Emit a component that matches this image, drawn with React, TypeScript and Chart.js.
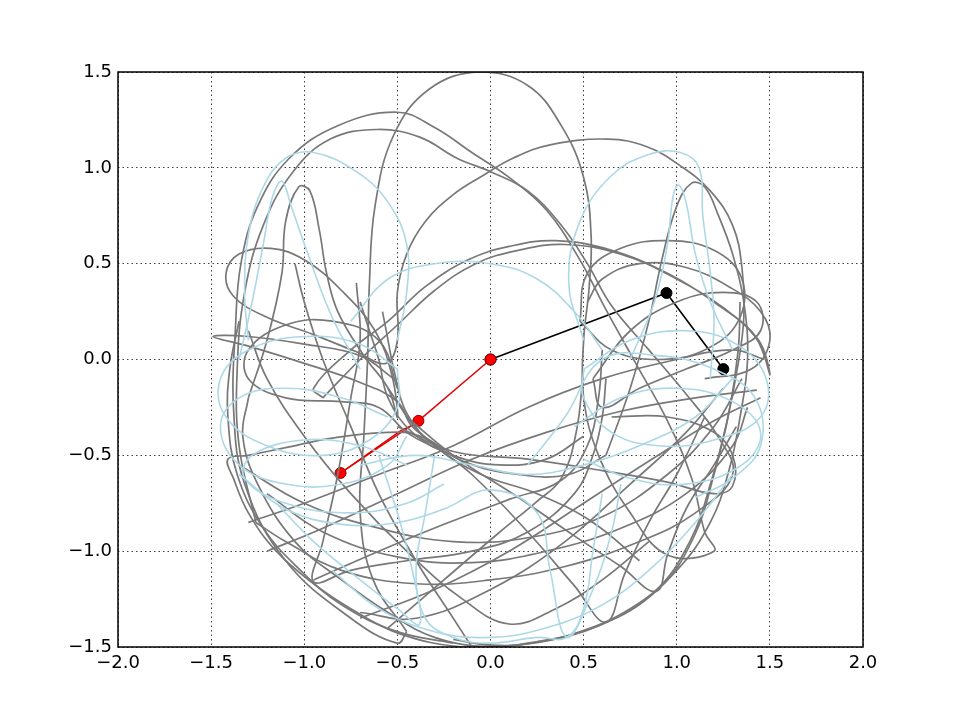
import React, { useEffect, useRef } from 'react';
import { Chart, registerables } from 'chart.js';
Chart.register(...registerables);

type P = [number, number];

const xTickValues = [-2.0, -1.5, -1.0, -0.5, 0.0, 0.5, 1.0, 1.5, 2.0];
const yTickValues = [-1.5, -1.0, -0.5, 0.0, 0.5, 1.0, 1.5];

// black double pendulum: pivot, bob 1, bob 2
const blackPendulum: P[] = [[0, 0], [0.945, 0.347], [1.25, -0.05]];
// red double pendulum: pivot, bob 1, bob 2
const redPendulum: P[] = [[0, 0], [-0.387, -0.32], [-0.805, -0.592]];
const redTrail: P[] = [[-0.39, -0.33], [-0.48, -0.37], [-0.805, -0.592]];

// grey trace (tip of black pendulum)
const grayLoop1: P[] = [[-1.3,-0.2],[-1.2,0.1],[-1.12,0.45],[-1.1,0.72],[-1.03,0.9],[-0.97,0.88],[-0.92,0.68],[-0.88,0.45],[-0.82,0.25],[-0.68,0.02],[-0.55,-0.15],[-0.5,-0.3],[-0.53,-0.08],[-0.62,0.15],[-0.8,0.36],[-1.0,0.52],[-1.18,0.58],[-1.35,0.55],[-1.42,0.45],[-1.38,0.33],[-1.2,0.22],[-0.95,0.13],[-0.72,0.04],[-0.56,-0.02],[-0.5,0.1],[-0.5,0.35],[-0.45,0.55],[-0.35,0.72],[-0.2,0.86],[-0.04,0.96],[0.12,1.05],[0.32,1.12],[0.63,1.15],[0.84,1.11],[1.02,1.01],[1.18,0.88],[1.3,0.7],[1.35,0.48],[1.36,0.22],[1.33,-0.02],[1.27,-0.32],[1.19,-0.62],[1.07,-0.95],[0.87,-1.22],[0.55,-1.4],[0.2,-1.48],[0.0,-1.5],[-0.3,-1.45],[-0.55,-1.32],[-0.8,-1.15],[-1.05,-0.95],[-1.25,-0.65],[-1.33,-0.4],[-1.3,-0.2]];
const grayLoop2: P[] = [[-0.9,-0.2],[-0.7,0.0],[-0.5,0.18],[-0.3,0.36],[-0.08,0.5],[0.15,0.57],[0.4,0.6],[0.7,0.55],[1.0,0.42],[1.25,0.27],[1.44,0.1],[1.5,-0.08],[1.42,0.12],[1.2,0.3],[0.95,0.45],[0.65,0.57],[0.35,0.62],[0.1,0.59],[-0.12,0.52],[-0.35,0.38],[-0.55,0.2],[-0.75,0.05],[-0.95,-0.15],[-0.9,-0.2]];
const grayLoop3: P[] = [[-0.45,-1.42],[-0.63,-1.15],[-0.7,-0.8],[-0.68,-0.4],[-0.66,0.0],[-0.65,0.4],[-0.62,0.8],[-0.52,1.17],[-0.33,1.41],[-0.06,1.5],[0.2,1.43],[0.38,1.22],[0.5,0.95],[0.54,0.65],[0.53,0.38],[0.5,0.1],[0.5,-0.2],[0.58,-0.5],[0.75,-0.8],[0.95,-1.02],[1.2,-1.0],[1.15,-0.9],[1.08,-0.62],[0.95,-0.32],[0.78,-0.02],[0.62,0.26],[0.48,0.52],[0.3,0.78],[0.1,0.95],[-0.1,1.08],[-0.3,1.21],[-0.5,1.29],[-0.82,1.22],[-1.08,1.05],[-1.25,0.8],[-1.34,0.5],[-1.37,0.15],[-1.38,-0.25],[-1.32,-0.65],[-1.1,-1.05],[-0.75,-1.35],[-0.5,-1.48],[-0.45,-1.42]];
const grayLoop4: P[] = [[-1.26,-0.85],[-1.35,-0.45],[-1.36,-0.05],[-1.32,0.35],[-1.22,0.7],[-1.06,0.98],[-0.86,1.15],[-0.61,1.2],[-0.38,1.16],[-0.18,1.05],[0.0,0.98],[0.2,0.88],[0.38,0.7],[0.52,0.5],[0.65,0.28],[0.85,0.05],[1.05,-0.18],[1.22,-0.4],[1.3,-0.6],[1.1,-0.8],[0.8,-0.95],[0.4,-1.08],[0.0,-1.15],[-0.4,-1.17],[-0.8,-1.1],[-1.1,-0.95],[-1.26,-0.85]];
const grayLoop5: P[] = [[0.62,-0.5],[0.75,-0.15],[0.85,0.2],[0.92,0.52],[1.0,0.8],[1.08,0.92],[1.15,0.9],[1.22,0.76],[1.3,0.55],[1.36,0.3],[1.38,0.0],[1.34,-0.3],[1.28,-0.58],[1.18,-0.85],[1.0,-1.1],[0.75,-1.3],[0.45,-1.43],[0.15,-1.49],[-0.15,-1.5],[-0.49,-1.43],[-0.75,-1.3],[-0.95,-1.17],[-1.15,-1.0],[-1.3,-0.8],[-1.38,-0.62],[-1.41,-0.52],[-1.3,-0.5],[-1.1,-0.46],[-0.85,-0.41],[-0.55,-0.38],[-0.38,-0.4],[-0.15,-0.53],[0.15,-0.6],[0.42,-0.6],[0.62,-0.5]];
const gray07: P[] = [[1.34,0.3],[1.33,0.05],[1.28,-0.28],[1.2,-0.6],[1.09,-0.93],[0.9,-1.2],[0.58,-1.39],[0.22,-1.48],[0.0,-1.49],[-0.2,-1.46]];
const gray11: P[] = [[-0.52,-0.1],[-0.7,0.02],[-1.0,0.08],[-1.3,0.12],[-1.49,0.12],[-1.3,0.07],[-1.0,-0.02],[-0.7,-0.12],[-0.5,-0.22],[-0.42,-0.35],[-0.25,-0.47]];
const gray12: P[] = [[-0.5,-0.15],[-0.6,0.1],[-0.85,0.2],[-1.1,0.18],[-1.3,0.05],[-1.3,-0.1],[-1.1,-0.2],[-0.8,-0.22],[-0.6,-0.25],[-0.45,-0.38],[-0.3,-0.46]];
const gray14: P[] = [[-1.35,0.2],[-1.4,-0.05],[-1.41,-0.3],[-1.36,-0.6],[-1.22,-0.88],[-1.02,-1.1],[-0.8,-1.28],[-0.5,-1.42],[-0.2,-1.48]];
const gray15: P[] = [[-1.3,0.15],[-1.2,-0.1],[-1.0,-0.4],[-0.75,-0.7],[-0.45,-1.0],[-0.15,-1.25],[0.1,-1.38],[0.35,-1.3],[0.6,-1.15],[0.85,-0.95]];
const gray16: P[] = [[-1.05,0.5],[-1.0,0.3],[-0.9,0.0],[-0.75,-0.35],[-0.6,-0.7],[-0.4,-1.05],[-0.2,-1.35],[-0.1,-1.5]];
const gray17: P[] = [[-0.72,0.4],[-0.7,0.1],[-0.75,-0.2],[-0.82,-0.6],[-0.9,-0.95],[-0.95,-1.16],[-0.75,-1.1],[-0.45,-1.05],[-0.1,-1.0],[0.2,-0.9],[0.45,-0.7],[0.55,-0.5],[0.6,-0.3],[0.62,-0.1]];
const gray18: P[] = [[-0.95,-1.15],[-0.6,-1.0],[-0.25,-0.86],[0.1,-0.73],[0.38,-0.63],[0.52,-0.45],[0.58,-0.2],[0.6,0.05]];
const gray19: P[] = [[-0.55,-1.4],[-0.25,-1.15],[0.05,-0.9],[0.25,-0.74],[0.38,-0.62],[0.46,-0.38],[0.5,-0.05]];
const gray20: P[] = [[-0.55,-0.15],[-0.38,-0.38],[-0.1,-0.6],[0.2,-0.9],[0.45,-1.18],[0.62,-1.37],[0.72,-1.12],[0.85,-0.85],[1.0,-0.6],[1.15,-0.3]];
const gray21: P[] = [[-0.45,-0.3],[-0.2,-0.5],[0.15,-0.72],[0.45,-0.92],[0.7,-1.08],[0.89,-1.21],[0.95,-1.02],[1.05,-0.78],[1.2,-0.55],[1.32,-0.35]];
const gray23: P[] = [[-1.2,-0.7],[-0.9,-0.9],[-0.5,-1.03],[-0.1,-1.06],[0.3,-1.0],[0.7,-0.88],[1.05,-0.7],[1.3,-0.45],[1.38,-0.25]];
const gray24: P[] = [[-1.35,-0.55],[-1.0,-0.75],[-0.6,-0.88],[-0.2,-0.95],[0.2,-0.93],[0.6,-0.82],[0.95,-0.6],[1.2,-0.35],[1.35,-0.1]];
const gray25: P[] = [[-0.5,-0.35],[-0.2,-0.48],[0.2,-0.52],[0.6,-0.58],[0.95,-0.64],[1.2,-0.7],[1.3,-0.66],[1.3,-0.5],[1.2,-0.38],[0.95,-0.3],[0.65,-0.3]];
const gray26: P[] = [[0.48,0.2],[0.52,0.45],[0.7,0.58],[0.95,0.62],[1.2,0.57],[1.35,0.42],[1.33,0.2],[1.15,0.05],[0.9,0.0],[0.65,0.05],[0.48,0.2]];
const gray27: P[] = [[0.55,-0.1],[0.75,0.15],[1.0,0.3],[1.25,0.35],[1.43,0.3],[1.45,0.15],[1.3,0.05],[1.05,-0.05],[0.8,-0.15],[0.6,-0.25],[0.55,-0.1]];
const gray28: P[] = [[0.52,0.3],[0.6,0.42],[0.8,0.5],[1.05,0.48],[1.28,0.38],[1.45,0.25],[1.5,0.1],[1.4,-0.05],[1.15,-0.1]];
const gray29: P[] = [[-1.2,-1.0],[-0.9,-0.88],[-0.5,-0.7],[-0.1,-0.52],[0.3,-0.38],[0.7,-0.27],[1.1,-0.2],[1.43,-0.16]];
const gray30: P[] = [[-1.3,-0.85],[-1.0,-0.75],[-0.6,-0.6],[-0.2,-0.45],[0.2,-0.25],[0.6,-0.1],[1.0,0.0],[1.3,0.05],[1.47,0.0]];
const gray31: P[] = [[-0.7,-1.35],[-0.3,-1.2],[0.1,-1.0],[0.5,-0.75],[0.9,-0.5],[1.2,-0.32],[1.45,-0.2]];
const gray32: P[] = [[-0.7,-1.32],[-0.4,-1.35],[0.0,-1.2],[0.4,-0.95],[0.75,-0.65],[1.05,-0.38],[1.25,-0.15]];
const gray33: P[] = [[-0.7,0.3],[-0.65,0.15],[-0.6,0.0],[-0.55,-0.2],[-0.42,-0.38],[-0.2,-0.5],[0.05,-0.55],[0.3,-0.52],[0.5,-0.4]];
const gray34: P[] = [[-0.58,0.25],[-0.55,0.1],[-0.52,-0.05],[-0.45,-0.28],[-0.3,-0.45],[-0.05,-0.6],[0.25,-0.7],[0.55,-0.85],[0.8,-1.05]];

// light blue trace
const blue01: P[] = [[-0.5,0.1],[-0.45,0.35],[-0.45,0.6],[-0.55,0.82],[-0.72,0.98],[-0.95,1.08],[-1.1,1.05],[-1.22,0.9],[-1.3,0.65],[-1.32,0.35],[-1.3,0.1]];
const blue02: P[] = [[-0.7,-0.05],[-0.85,0.22],[-0.98,0.55],[-1.07,0.8],[-1.12,0.93],[-1.17,0.85],[-1.22,0.6],[-1.28,0.3],[-1.35,0.0]];
const blue03: P[] = [[0.5,0.1],[0.42,0.4],[0.48,0.72],[0.65,0.96],[0.85,1.07],[1.02,1.08],[1.12,1.0],[1.14,0.75],[1.18,0.45],[1.2,0.2],[1.18,-0.1]];
const blue04: P[] = [[0.75,0.0],[0.88,0.3],[0.95,0.6],[0.98,0.85],[1.01,0.91],[1.05,0.82],[1.1,0.55],[1.18,0.3],[1.3,0.05]];
const blue05: P[] = [[-0.5,-0.05],[-0.7,0.08],[-1.0,0.12],[-1.3,0.05],[-1.45,-0.1],[-1.42,-0.3],[-1.2,-0.45],[-0.9,-0.5],[-0.65,-0.42],[-0.5,-0.25],[-0.5,-0.05]];
const blue06: P[] = [[-0.55,-0.3],[-0.8,-0.2],[-1.1,-0.15],[-1.35,-0.2],[-1.45,-0.35],[-1.35,-0.55],[-1.1,-0.65],[-0.8,-0.65],[-0.55,-0.55],[-0.45,-0.4]];
const blue07: P[] = [[-0.45,-0.55],[-0.7,-0.45],[-1.0,-0.42],[-1.28,-0.5],[-1.32,-0.62],[-1.1,-0.75],[-0.75,-0.8],[-0.45,-0.75],[-0.25,-0.65]];
const blue08: P[] = [[0.5,-0.05],[0.75,0.1],[1.05,0.15],[1.32,0.08],[1.48,-0.1],[1.45,-0.3],[1.2,-0.42],[0.9,-0.45],[0.65,-0.38],[0.5,-0.2],[0.5,-0.05]];
const blue09: P[] = [[0.45,-0.35],[0.7,-0.2],[1.0,-0.15],[1.3,-0.22],[1.45,-0.38],[1.35,-0.55],[1.05,-0.65],[0.75,-0.62],[0.5,-0.52]];
const blue10: P[] = [[0.2,-0.55],[0.4,-0.3],[0.6,0.0],[0.9,0.02],[1.2,-0.05],[1.42,-0.2],[1.45,-0.45],[1.3,-0.62],[1.1,-0.72]];
const blue11: P[] = [[-0.3,-0.5],[-0.35,-0.8],[-0.4,-1.1],[-0.35,-1.35],[-0.2,-1.45],[0.0,-1.48],[0.25,-1.45],[0.41,-1.45],[0.5,-1.3],[0.55,-1.0],[0.6,-0.7]];
const blue12: P[] = [[-1.35,-0.6],[-1.1,-0.78],[-0.8,-0.86],[-0.5,-0.85],[-0.25,-0.78],[0.0,-0.68],[0.25,-0.8],[0.32,-1.1],[0.41,-1.45],[0.55,-1.2],[0.65,-0.9],[0.7,-0.65]];
const blue14: P[] = [[-0.6,-0.5],[-0.5,-0.8],[-0.42,-1.1],[-0.38,-1.38],[-0.5,-1.3],[-0.7,-1.15],[-0.95,-0.95],[-1.15,-0.75]];
const blue15: P[] = [[1.3,-0.6],[1.1,-0.85],[0.85,-1.1],[0.6,-1.28],[0.3,-1.4],[0.0,-1.45],[-0.3,-1.42],[-0.6,-1.3],[-0.85,-1.1]];
const blue16: P[] = [[-0.7,-0.55],[-0.4,-0.5],[-0.1,-0.55],[0.2,-0.6],[0.5,-0.55],[0.8,-0.45],[1.1,-0.3],[1.3,-0.1]];
const blue17: P[] = [[-0.75,0.2],[-0.55,0.42],[-0.3,0.5],[0.0,0.5],[0.25,0.42],[0.45,0.25],[0.6,0.05]];

const grayTraces: P[][] = [grayLoop1, grayLoop2, grayLoop3, grayLoop4, grayLoop5, gray07, gray11, gray12, gray14, gray15, gray16, gray17, gray18, gray19, gray20, gray21, gray23, gray24, gray25, gray26, gray27, gray28, gray29, gray30, gray31, gray32, gray33, gray34];
const blueTraces: P[][] = [blue01, blue02, blue03, blue04, blue05, blue06, blue07, blue08, blue09, blue10, blue11, blue12, blue14, blue15, blue16, blue17];

const toXY = (pts: P[]) => pts.map(([x, y]) => ({ x, y }));
const fmt = (v: number) => {
  const s = (Math.abs(v) < 1e-9 ? 0 : v).toFixed(1);
  return s.replace('-', '\u2212');
};

const framePlugin = {
  id: 'frame',
  afterDraw(chart: any) {
    const { ctx, chartArea: a } = chart;
    ctx.save();
    ctx.strokeStyle = '#000';
    ctx.lineWidth = 1.5;
    ctx.strokeRect(a.left, a.top, a.right - a.left, a.bottom - a.top);
    ctx.restore();
  },
};

export default function App() {
  const ref = useRef<HTMLCanvasElement>(null);
  useEffect(() => {
    if (!ref.current) return;
    const traceDs = (pts: P[], color: string, w: number) => ({
      data: toXY(pts),
      showLine: true,
      borderColor: color,
      borderWidth: w,
      pointRadius: 0,
      pointHoverRadius: 0,
      tension: 0.4,
      fill: false,
    });
    const datasets: any[] = [
      ...blueTraces.map((t) => traceDs(t, '#add8e6', 1.6)),
      ...grayTraces.map((t) => traceDs(t, '#787878', 1.7)),
      {
        data: toXY(redTrail),
        showLine: true,
        borderColor: '#e00000',
        borderWidth: 1.3,
        pointRadius: 0,
        tension: 0,
      },
      {
        data: toXY(redPendulum),
        showLine: true,
        borderColor: '#e00000',
        borderWidth: 1.5,
        pointRadius: 5.5,
        pointBackgroundColor: '#ff0000',
        pointBorderColor: '#8b0000',
        pointBorderWidth: 1,
        tension: 0,
      },
      {
        data: toXY(blackPendulum),
        showLine: true,
        borderColor: '#000',
        borderWidth: 1.6,
        pointRadius: 5.5,
        pointBackgroundColor: '#000',
        pointBorderColor: '#000',
        pointBorderWidth: 1,
        tension: 0,
      },
    ];
    const tickFont = { family: "'DejaVu Sans', sans-serif", size: 18 };
    const grid = {
      color: 'rgba(0,0,0,0.75)',
      lineWidth: 1,
      drawTicks: false,
    };
    const chart = new Chart(ref.current, {
      type: 'scatter',
      data: { datasets },
      plugins: [framePlugin],
      options: {
        animation: false,
        responsive: false,
        maintainAspectRatio: false,
        events: [],
        layout: { padding: { left: 0, top: 72, right: 97, bottom: 0 } },
        plugins: { legend: { display: false }, tooltip: { enabled: false } },
        scales: {
          x: {
            type: 'linear',
            min: -2,
            max: 2,
            afterBuildTicks: (s: any) => { s.ticks = xTickValues.map((v) => ({ value: v })); },
            afterFit: (s: any) => { s.height = 73; },
            border: { display: false, dash: [1.5, 3] },
            grid,
            ticks: { font: tickFont, color: '#000', padding: 6, maxRotation: 0, autoSkip: false, callback: (v: any) => fmt(Number(v)) },
          },
          y: {
            type: 'linear',
            min: -1.5,
            max: 1.5,
            afterBuildTicks: (s: any) => { s.ticks = yTickValues.map((v) => ({ value: v })); },
            afterFit: (s: any) => { s.width = 118; },
            border: { display: false, dash: [1.5, 3] },
            grid,
            ticks: { font: tickFont, color: '#000', padding: 6, autoSkip: false, callback: (v: any) => fmt(Number(v)) },
          },
        },
      },
    } as any);
    return () => chart.destroy();
  }, []);
  return (
    <div style={{ position: 'fixed', left: 0, top: 0, width: 960, height: 720, background: '#fff' }}>
      <canvas ref={ref} width={960} height={720} style={{ width: 960, height: 720 }} />
    </div>
  );
}
